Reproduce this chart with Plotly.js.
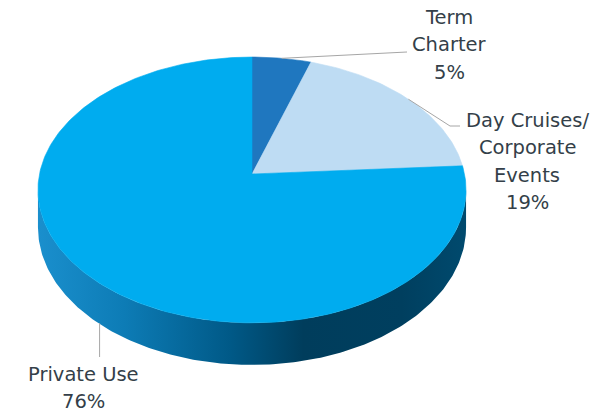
<!DOCTYPE html>
<html>
<head>
<meta charset="utf-8">
<script src="https://cdn.plot.ly/plotly-3.0.1.min.js"></script>
<style>html,body{margin:0;padding:0;background:#fff;}#chart{width:606px;height:412px;}</style>
</head>
<body>
<div id="chart"></div>
<script>
// ---- data ----
const categories = ['Term Charter', 'Day Cruises/ Corporate Events', 'Private Use'];
const values = [5, 19, 76];
const labelLines = [['Term', 'Charter'], ['Day Cruises/', 'Corporate', 'Events'], ['Private Use']];
const sliceColors = ['#1f77bf', '#bedcf3', '#00acef'];

// ---- geometry (3D pie projection) ----
const CX = 252, CY = 174, RX = 212.5, RY = 131, P = 0.12, D = 37;
const total = values.reduce((a, b) => a + b, 0);
function proj(theta, depth) {
  const u = Math.sin(theta), v = -Math.cos(theta);
  const s = 1 / (1 - P * v);
  return [CX + RX * u * s, CY + RY * v * s + (depth || 0) * s];
}
function arc(a0, a1, depth, n) {
  const xs = [], ys = [];
  for (let i = 0; i <= n; i++) {
    const t = a0 + (a1 - a0) * i / n;
    const p = proj(t, depth);
    xs.push(p[0]); ys.push(p[1]);
  }
  return [xs, ys];
}

const traces = [];
// side wall (front)
const ta = Math.acos(-P), tb = 2 * Math.PI - ta;
const sideTop = arc(ta, tb, 0, 200), sideBot = arc(tb, ta, D, 200);
traces.push({
  x: sideTop[0].concat(sideBot[0]), y: sideTop[1].concat(sideBot[1]),
  mode: 'lines', fill: 'toself', line: {width: 0, color: '#0a6fa3'},
  fillgradient: {type: 'horizontal', colorscale: [[0, '#1a8fcd'], [0.2, '#0d7cb6'], [0.45, '#005987'], [0.62, '#003d5c'], [0.85, '#003f5f'], [1, '#004a6e']]},
  hoverinfo: 'skip'
});

// top slices
let cum = 0;
const mids = [];
values.forEach((v, i) => {
  const a0 = cum / total * 2 * Math.PI;
  cum += v;
  const a1 = cum / total * 2 * Math.PI;
  mids.push((a0 + a1) / 2);
  const n = Math.max(8, Math.round((a1 - a0) * 60));
  const a = arc(a0, a1, 0, n);
  traces.push({
    x: [CX].concat(a[0], [CX]), y: [CY].concat(a[1], [CY]),
    mode: 'lines', fill: 'toself', fillcolor: sliceColors[i],
    line: {width: 0.6, color: sliceColors[i]}, hoverinfo: 'skip', name: categories[i]
  });
});

// label anchors (layout positions)
const labelPos = [[449, 17], [527, 120], [83, 374]];
const lineH = 27.5;
const leaderGray = '#a6a6a6';

// leader lines from slice mid-points
const m0 = proj(mids[0], 0);
traces.push({x: [m0[0], 407], y: [m0[1], 52], mode: 'lines', line: {color: leaderGray, width: 1}, hoverinfo: 'skip'});
const m1 = proj(mids[1], 0);
traces.push({x: [m1[0], 450, 460], y: [m1[1], 126, 126], mode: 'lines', line: {color: leaderGray, width: 1}, hoverinfo: 'skip'});
const m2 = proj(mids[2], D);
traces.push({x: [m2[0] + 7, m2[0] + 7], y: [m2[1] + 4, 357], mode: 'lines', line: {color: leaderGray, width: 1}, hoverinfo: 'skip'});

const annotations = [];
labelLines.forEach((lines, i) => {
  const all = lines.concat([Math.round(values[i] / total * 100) + '%']);
  all.forEach((t, j) => {
    annotations.push({
      x: labelPos[i][0], y: labelPos[i][1] + j * lineH, xref: 'x', yref: 'y',
      text: t, showarrow: false, xanchor: 'center', yanchor: 'middle',
      font: {family: 'DejaVu Sans, Verdana, sans-serif', size: 19.5, color: '#343f49'}
    });
  });
});

const layout = {
  width: 606, height: 412,
  margin: {l: 0, r: 0, t: 0, b: 0},
  paper_bgcolor: '#ffffff', plot_bgcolor: '#ffffff',
  showlegend: false,
  xaxis: {range: [0, 606], visible: false, fixedrange: true},
  yaxis: {range: [412, 0], visible: false, fixedrange: true},
  annotations: annotations
};
Plotly.newPlot('chart', traces, layout, {displayModeBar: false, staticPlot: true});
</script>
</body>
</html>
